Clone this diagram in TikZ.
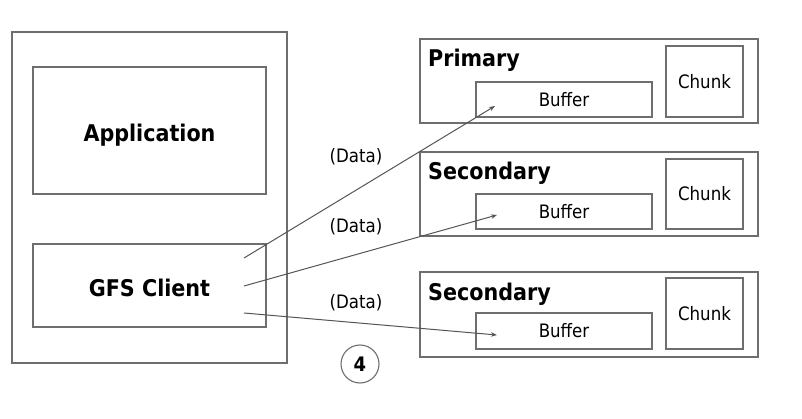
\documentclass[tikz,border=0pt]{standalone}
\usepackage{fontspec}
\setmainfont{DejaVu Sans Condensed}
\usetikzlibrary{arrows.meta}
\definecolor{boxgray}{RGB}{110,110,110}
\definecolor{linegray}{RGB}{85,85,85}
\tikzset{
  box/.style={draw=boxgray, line width=1.2pt, inner sep=0pt},
  bigbold/.style={font=\fontsize{23}{25}\selectfont\bfseries, inner sep=0pt},
  title/.style={bigbold, anchor=base west},
  small/.style={font=\fontsize{18.5}{20}\selectfont, inner sep=0pt},
  datalink/.style={draw=linegray, line width=1pt, -{Stealth[length=6pt,width=4.5pt]}},
}
\newcommand{\rect}[5]{\node[box, minimum width=#4-#2, minimum height=#5-#3] (#1) at ({(#2+#4)/2},{(#3+#5)/2}) {};}
\begin{document}
\begin{tikzpicture}[x=1pt,y=-1pt]
\useasboundingbox (0,0) rectangle (802,419);
% left side
\rect{outer}{12}{32}{287}{363}
\rect{app}{33}{67}{266}{194}
\rect{client}{33}{244}{266}{327}
\node[bigbold] (apptext) at ([yshift=-5pt]app.center) {Application};
\node[bigbold] (clienttext) at ([yshift=-2pt]client.center) {GFS Client};
% primary
\rect{p1}{420}{39}{758}{123}
\rect{k1}{666}{46}{743}{117}
\rect{b1}{476}{82}{652}{117}
\node[title] (t1) at (428,67) {Primary};
\node[small] (bt1) at (b1.center) {Buffer};
\node[small] (kt1) at (k1.center) {Chunk};
% secondary 1
\rect{p2}{420}{152}{758}{236}
\rect{k2}{666}{159}{743}{229}
\rect{b2}{476}{194}{652}{229}
\node[title] (t2) at (428,180) {Secondary};
\node[small] (bt2) at (b2.center) {Buffer};
\node[small] (kt2) at (k2.center) {Chunk};
% secondary 2
\rect{p3}{420}{272}{758}{357}
\rect{k3}{666}{278}{743}{349}
\rect{b3}{476}{313}{652}{349}
\node[title] (t3) at (428,300) {Secondary};
\node[small] (bt3) at (b3.center) {Buffer};
\node[small] (kt3) at (k3.center) {Chunk};
% data labels
\node[small] (d1) at (356,157) {(Data)};
\node[small] (d2) at (356,227) {(Data)};
\node[small] (d3) at (356,303) {(Data)};
% connectors
\coordinate (s1) at (244,258);
\coordinate (s2) at (244,286);
\coordinate (s3) at (244,313);
\coordinate (e1) at (495,106);
\coordinate (e2) at (497,215);
\coordinate (e3) at (497,335);
\draw[datalink] (s1) -- (e1);
\draw[datalink] (s2) -- (e2);
\draw[datalink] (s3) -- (e3);
% step circle
\node[draw=boxgray, line width=1.1pt, circle, minimum size=38pt, inner sep=0pt,
      font=\fontsize{20}{22}\selectfont\bfseries] (n4) at (360,364) {4};
\end{tikzpicture}
\end{document}
